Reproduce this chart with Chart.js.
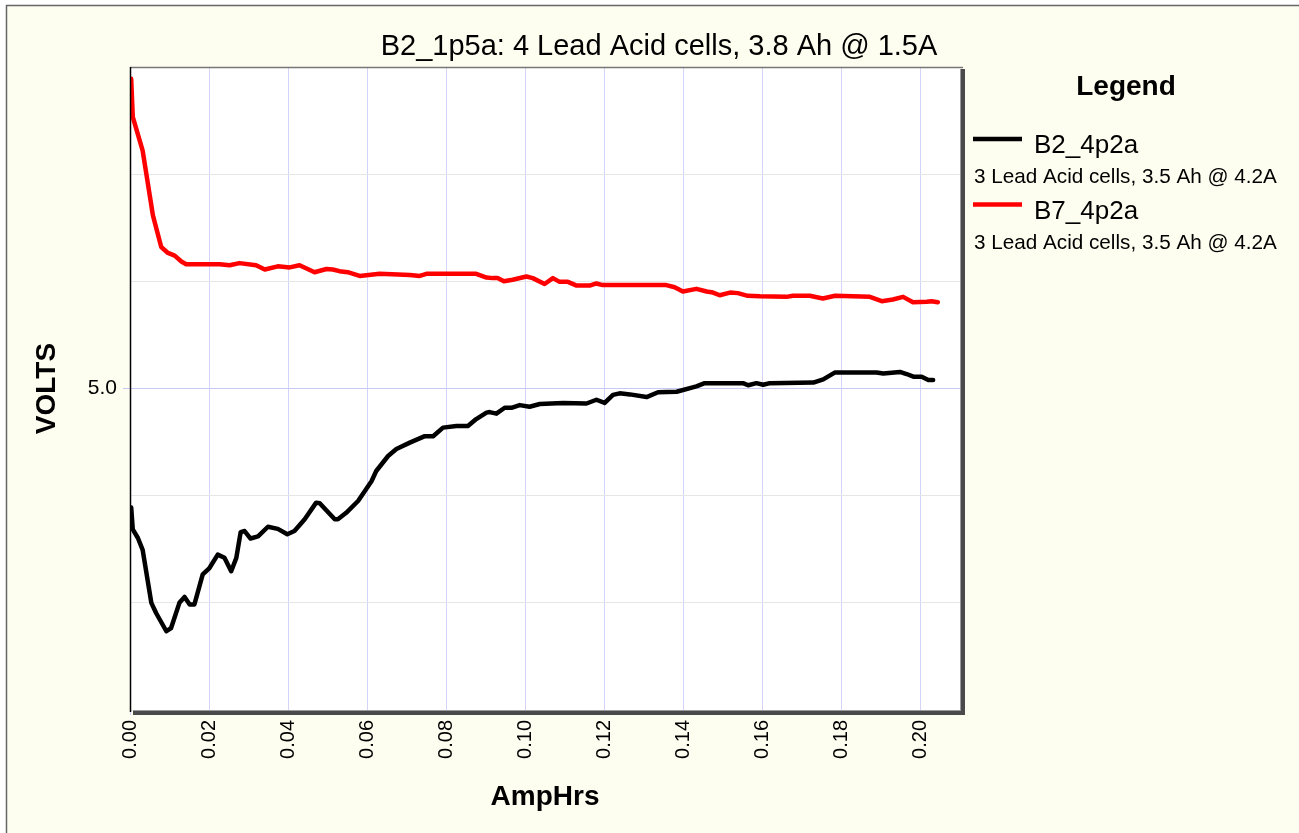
<!DOCTYPE html>
<html>
<head>
<meta charset="utf-8">
<script src="https://cdn.jsdelivr.net/npm/chart.js@4.4.1/dist/chart.umd.min.js"></script>
<style>
  html, body { margin: 0; padding: 0; background: #fff; }
  canvas { display: block; }
</style>
</head>
<body>
<canvas id="voltsChart" width="1299" height="833"></canvas>
<script>
// values
var chartTitle = "B2_1p5a: 4 Lead Acid cells, 3.8 Ah @ 1.5A";
var seriesNames = ["B2_4p2a", "B7_4p2a"];
var seriesNotes = ["3 Lead Acid cells, 3.5 Ah @ 4.2A", "3 Lead Acid cells, 3.5 Ah @ 4.2A"];
var seriesColors = ["#000000", "#ff0000"];

var b2AmpHrs = [0.0003, 0.0007, 0.0020, 0.0032, 0.0054, 0.0066, 0.0092, 0.0104, 0.0125, 0.0138, 0.0151, 0.0163, 0.0184, 0.0201, 0.0222, 0.0239, 0.0256, 0.0269, 0.0280, 0.0290, 0.0305, 0.0324, 0.0349, 0.0374, 0.0398, 0.0416, 0.0442, 0.0471, 0.0480, 0.0518, 0.0526, 0.0547, 0.0577, 0.0611, 0.0623, 0.0653, 0.0674, 0.0708, 0.0746, 0.0767, 0.0792, 0.0826, 0.0855, 0.0876, 0.0902, 0.0910, 0.0927, 0.0948, 0.0965, 0.0986, 0.1011, 0.1037, 0.1096, 0.1155, 0.1180, 0.1201, 0.1222, 0.1239, 0.1265, 0.1307, 0.1336, 0.1383, 0.1433, 0.1454, 0.1551, 0.1564, 0.1585, 0.1602, 0.1619, 0.1729, 0.1754, 0.1784, 0.1889, 0.1906, 0.1948, 0.1965, 0.1982, 0.2003, 0.2020, 0.2032];
var b2Volts = [4.778, 4.737, 4.721, 4.699, 4.600, 4.581, 4.547, 4.553, 4.600, 4.611, 4.597, 4.597, 4.653, 4.665, 4.690, 4.684, 4.659, 4.684, 4.732, 4.734, 4.720, 4.724, 4.742, 4.738, 4.728, 4.734, 4.756, 4.787, 4.786, 4.756, 4.756, 4.768, 4.790, 4.827, 4.846, 4.874, 4.887, 4.899, 4.911, 4.911, 4.927, 4.930, 4.930, 4.943, 4.955, 4.956, 4.953, 4.964, 4.964, 4.969, 4.966, 4.971, 4.973, 4.972, 4.979, 4.973, 4.988, 4.991, 4.989, 4.984, 4.993, 4.994, 5.004, 5.010, 5.010, 5.006, 5.010, 5.007, 5.010, 5.011, 5.017, 5.030, 5.030, 5.028, 5.031, 5.027, 5.022, 5.022, 5.016, 5.016];

var b7AmpHrs = [0.0003, 0.0007, 0.0032, 0.0058, 0.0079, 0.0096, 0.0113, 0.0130, 0.0142, 0.0227, 0.0252, 0.0277, 0.0319, 0.0341, 0.0374, 0.0404, 0.0429, 0.0467, 0.0497, 0.0513, 0.0530, 0.0551, 0.0581, 0.0632, 0.0708, 0.0733, 0.0750, 0.0876, 0.0902, 0.0918, 0.0930, 0.0946, 0.0968, 0.1003, 0.1019, 0.1049, 0.1070, 0.1087, 0.1108, 0.1130, 0.1163, 0.1180, 0.1196, 0.1357, 0.1378, 0.1399, 0.1433, 0.1459, 0.1475, 0.1492, 0.1518, 0.1538, 0.1563, 0.1594, 0.1661, 0.1677, 0.1720, 0.1753, 0.1784, 0.1872, 0.1902, 0.1930, 0.1956, 0.1981, 0.2016, 0.2028, 0.2044];
var b7Volts = [5.578, 5.507, 5.444, 5.323, 5.264, 5.253, 5.248, 5.237, 5.232, 5.232, 5.230, 5.234, 5.230, 5.222, 5.228, 5.226, 5.230, 5.217, 5.223, 5.222, 5.219, 5.217, 5.210, 5.214, 5.212, 5.210, 5.214, 5.214, 5.207, 5.206, 5.206, 5.200, 5.203, 5.209, 5.206, 5.195, 5.206, 5.199, 5.199, 5.192, 5.192, 5.196, 5.193, 5.193, 5.189, 5.181, 5.186, 5.181, 5.179, 5.174, 5.179, 5.178, 5.173, 5.172, 5.171, 5.173, 5.173, 5.168, 5.173, 5.171, 5.163, 5.166, 5.171, 5.161, 5.162, 5.163, 5.161];

var FONT = 'Arial, "Liberation Sans", sans-serif';

function toPoints(xs, ys) {
  return xs.map(function(x, i) { return { x: x, y: ys[i] }; });
}

// page background, outer frame and white plot area
var paperPlugin = {
  id: 'paper',
  beforeDraw: function(chart) {
    var ctx = chart.ctx, a = chart.chartArea;
    ctx.save();
    ctx.fillStyle = '#ffffff';
    ctx.fillRect(0, 0, chart.width, chart.height);
    ctx.fillStyle = '#fefef0';
    ctx.fillRect(6, 5, chart.width - 6, chart.height - 5);
    ctx.strokeStyle = '#666666';
    ctx.lineWidth = 1.5;
    ctx.beginPath();
    ctx.moveTo(6.5, chart.height);
    ctx.lineTo(6.5, 5.5);
    ctx.lineTo(chart.width, 5.5);
    ctx.stroke();
    ctx.fillStyle = '#ffffff';
    ctx.fillRect(a.left, a.top, a.right - a.left, a.bottom - a.top);
    ctx.restore();
  },
  afterDatasetsDraw: function(chart) {
    var ctx = chart.ctx, a = chart.chartArea;
    ctx.save();
    // shadowed right and bottom edges
    ctx.fillStyle = '#4a4a4a';
    ctx.fillRect(a.right, a.top + 2, 5, a.bottom - a.top + 3);
    ctx.fillRect(a.left + 3, a.bottom, a.right - a.left + 2, 5);
    ctx.fillStyle = '#9a9a9a';
    ctx.fillRect(a.right, a.top + 2, 1, a.bottom - a.top - 1);
    ctx.fillRect(a.left + 3, a.bottom, a.right - a.left - 2, 1);
    ctx.strokeStyle = '#777777';
    ctx.lineWidth = 1.5;
    ctx.beginPath();
    ctx.moveTo(a.left, a.top + 0.5);
    ctx.lineTo(a.right + 3, a.top + 0.5);
    ctx.stroke();
    ctx.strokeStyle = '#000000';
    ctx.lineWidth = 1.5;
    ctx.beginPath();
    ctx.moveTo(a.left + 0.5, a.top);
    ctx.lineTo(a.left + 0.5, a.bottom + 2);
    ctx.stroke();
    ctx.restore();
  },
  afterDraw: function(chart) {
    var ctx = chart.ctx;
    ctx.save();
    ctx.fillStyle = '#000';
    ctx.textBaseline = 'alphabetic';
    ctx.textAlign = 'center';
    ctx.font = '29px ' + FONT;
    ctx.fillText(chartTitle, 659, 55);
    ctx.font = 'bold 28px ' + FONT;
    ctx.fillText('Legend', 1126, 95);
    ctx.textAlign = 'left';
    for (var i = 0; i < seriesNames.length; i++) {
      var y = 139 + i * 65.5;
      ctx.strokeStyle = seriesColors[i];
      ctx.lineWidth = 4.5;
      ctx.beginPath();
      ctx.moveTo(973, y);
      ctx.lineTo(1022, y);
      ctx.stroke();
      ctx.fillStyle = '#000';
      ctx.font = '26px ' + FONT;
      ctx.fillText(seriesNames[i], 1034, y + 14);
      ctx.font = '20.7px ' + FONT;
      ctx.fillText(seriesNotes[i], 974, y + 44);
    }
    ctx.restore();
  }
};

function isFive(v) { return Math.abs(v - 5) < 1e-6; }

new Chart(document.getElementById('voltsChart'), {
  type: 'line',
  data: {
    datasets: [
      {
        label: seriesNames[0],
        data: toPoints(b2AmpHrs, b2Volts),
        borderColor: seriesColors[0],
        borderWidth: 4.5,
        pointRadius: 0,
        tension: 0,
        borderJoinStyle: 'round',
        borderCapStyle: 'round'
      },
      {
        label: seriesNames[1],
        data: toPoints(b7AmpHrs, b7Volts),
        borderColor: seriesColors[1],
        borderWidth: 4.5,
        pointRadius: 0,
        tension: 0,
        borderJoinStyle: 'round',
        borderCapStyle: 'round'
      }
    ]
  },
  options: {
    responsive: false,
    animation: false,
    layout: { padding: { left: 6, top: 67, right: 339, bottom: 10 } },
    plugins: {
      legend: { display: false },
      title: { display: false },
      tooltip: { enabled: false }
    },
    scales: {
      x: {
        type: 'linear',
        min: 0,
        max: 0.21,
        afterFit: function(scale) { scale.height = 113; },
        border: { display: false },
        grid: { color: '#d4d4fa', lineWidth: 1, tickLength: 5, tickColor: '#d4d4fa' },
        ticks: {
          stepSize: 0.02,
          includeBounds: false,
          autoSkip: false,
          minRotation: 90,
          maxRotation: 90,
          padding: 5,
          color: '#000',
          font: { family: FONT, size: 20 },
          callback: function(v) { return v.toFixed(2); }
        },
        title: {
          display: true,
          text: 'AmpHrs',
          color: '#000',
          font: { family: FONT, size: 28, weight: 'bold' },
          padding: { top: 0, bottom: 9 }
        }
      },
      y: {
        min: 4.4,
        max: 5.6,
        afterFit: function(scale) { scale.width = 124; },
        border: { display: false },
        grid: {
          lineWidth: 1,
          tickLength: 7,
          color: function(c) { return c.tick && isFive(c.tick.value) ? '#c8c8f4' : '#e6e6e6'; },
          tickColor: function(c) { return c.tick && isFive(c.tick.value) ? '#c8c8f4' : 'rgba(0,0,0,0)'; }
        },
        ticks: {
          stepSize: 0.2,
          padding: 6,
          color: '#000',
          font: { family: FONT, size: 21 },
          callback: function(v) { return isFive(v) ? '5.0' : ''; }
        },
        title: {
          display: true,
          text: 'VOLTS',
          color: '#000',
          font: { family: FONT, size: 28, weight: 'bold' },
          padding: { top: 24, bottom: 0 }
        }
      }
    }
  },
  plugins: [paperPlugin]
});
</script>
</body>
</html>
